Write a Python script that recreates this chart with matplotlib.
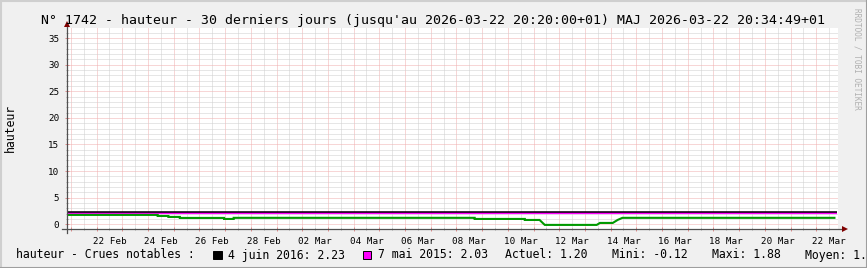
import numpy as np
import pandas as pd
import matplotlib
matplotlib.use("Agg")
import matplotlib.pyplot as plt
import matplotlib.dates as mdates
from matplotlib.ticker import MultipleLocator, NullFormatter
from matplotlib.lines import Line2D
from matplotlib.patches import Rectangle

# hauteur (m) - relevé approximatif sur le graphe
t_hauteur = ['2026-02-20 20:20', '2026-02-24 09:00', '2026-02-24 09:00', '2026-02-24 19:00',
             '2026-02-24 19:00', '2026-02-25 05:40', '2026-02-25 05:40', '2026-02-26 23:00',
             '2026-02-26 23:00', '2026-02-27 08:00', '2026-02-27 08:00', '2026-03-08 17:00',
             '2026-03-08 17:00', '2026-03-10 15:50', '2026-03-10 15:50', '2026-03-11 05:40',
             '2026-03-11 10:30', '2026-03-13 11:00', '2026-03-13 14:00', '2026-03-14 02:00',
             '2026-03-14 06:30', '2026-03-14 11:00', '2026-03-22 17:00']
v_hauteur = [1.75, 1.75, 1.55, 1.55,
             1.37, 1.37, 1.18, 1.18,
             0.99, 0.99, 1.20, 1.20,
             0.99, 0.99, 0.80, 0.80,
             -0.13, -0.13, 0.24, 0.24,
             0.80, 1.20, 1.20]

# crues notables
crues_labels = ['4 juin 2016: 2.23', '7 mai 2015: 2.03']
crues_values = [2.23, 2.03]
crues_colors = ['#000000', '#ff00ff']
crues_t = ['2026-02-20 20:20', '2026-03-22 19:50']

stats = ['Actuel: 1.20', 'Mini: -0.12', 'Maxi: 1.88', 'Moyen: 1.19']

tick_labels = ['22 Feb', '24 Feb', '26 Feb', '28 Feb', '02 Mar', '04 Mar', '06 Mar', '08 Mar',
               '10 Mar', '12 Mar', '14 Mar', '16 Mar', '18 Mar', '20 Mar', '22 Mar']
tick_pos = ['2026-02-22 12:00', '2026-02-24 12:00', '2026-02-26 12:00', '2026-02-28 12:00',
            '2026-03-02 12:00', '2026-03-04 12:00', '2026-03-06 12:00', '2026-03-08 12:00',
            '2026-03-10 12:00', '2026-03-12 12:00', '2026-03-14 12:00', '2026-03-16 12:00',
            '2026-03-18 12:00', '2026-03-20 12:00', '2026-03-22 12:00']

t_start = pd.Timestamp('2026-02-20 20:20')
t_end = pd.Timestamp('2026-03-22 20:20')

MONO = 'DejaVu Sans Mono'
plt.rcParams['font.family'] = MONO

W, H = 867, 268
fig = plt.figure(figsize=(W / 100, H / 100), dpi=100, facecolor='#f0f0f0')


def fx(px):
    return px / W


def fy(py):
    return 1 - py / H


ax = fig.add_axes([fx(67), fy(229), fx(838) - fx(67), fy(28) - fy(229)])
ax.set_facecolor('white')

ax.set_xlim(t_start, t_end)
ax.set_ylim(-0.9, 36.9)

# grille
ax.xaxis.set_major_locator(mdates.DayLocator())
ax.xaxis.set_minor_locator(mdates.HourLocator(byhour=[12]))
ax.xaxis.set_major_formatter(NullFormatter())
ax.yaxis.set_major_locator(MultipleLocator(5))
ax.yaxis.set_minor_locator(MultipleLocator(1))
ax.grid(which='minor', color='#cfcfcf', linestyle=(0, (1, 1)), linewidth=0.72)
ax.grid(which='major', color='#f0afaf', linestyle=(0, (1, 1)), linewidth=0.72)
ax.set_axisbelow(True)

ax.tick_params(axis='x', which='major', length=3, width=0.72, color='#e09090', direction='inout')
ax.tick_params(axis='x', which='minor', length=2, width=0.72, color='#aaaaaa', direction='inout')
ax.tick_params(axis='y', which='major', length=3, width=0.72, color='#e09090', direction='inout',
               labelsize=6.7, pad=4)
ax.tick_params(axis='y', which='minor', length=2, width=0.72, color='#aaaaaa', direction='inout')

for s in ax.spines.values():
    s.set_visible(False)

# étiquettes de dates centrées à midi
for lab, p in zip(tick_labels, tick_pos):
    ax.text(pd.Timestamp(p), -0.04, lab, transform=ax.get_xaxis_transform(),
            ha='center', va='top', fontsize=6.7, family=MONO)

# courbes : magenta d'abord, noir fin par-dessus pour garder les deux visibles
for v, c, lw in sorted(zip(crues_values, crues_colors, [1.1, 1.6])):
    ax.plot(pd.to_datetime(crues_t), [v, v], color=c, linewidth=lw, solid_capstyle='butt')
ax.plot(pd.to_datetime(t_hauteur), v_hauteur, color='#009900', linewidth=1.5,
        solid_joinstyle='miter')

# axes avec flèches
ax.add_line(Line2D([-0.006, 1.006], [0, 0], transform=ax.transAxes, color='#505050',
                   linewidth=0.9, clip_on=False))
ax.add_line(Line2D([0, 0], [-0.02, 1.02], transform=ax.transAxes, color='#505050',
                   linewidth=0.9, clip_on=False))
ax.plot([1.009], [0], marker='>', markersize=4.5, color='#7f0000', transform=ax.transAxes,
        clip_on=False, markeredgewidth=0)
ax.plot([0], [1.02], marker='^', markersize=4.5, color='#7f0000', transform=ax.transAxes,
        clip_on=False, markeredgewidth=0)

# titre
fig.text(fx(433), fy(24), "N° 1742 - hauteur - 30 derniers jours (jusqu'au 2026-03-22 20:20:00+01) "
         "MAJ 2026-03-22 20:34:49+01", ha='center', va='baseline', fontsize=9.55, family=MONO)

fig.text(fx(10), fy(128), 'hauteur', rotation=90, ha='center', va='center', fontsize=8.3)

fig.text(fx(857), fy(59), 'RRDTOOL / TOBI OETIKER', rotation=270, ha='center', va='center',
         fontsize=5.6, color='#b0b0b0')

# légende (le dernier texte est coupé au bord, comme sur l'original)
base = fy(258.5)
fig.text(fx(16.5), base, 'hauteur - Crues notables :', fontsize=8.3, va='baseline')
sq_x = [213.3, 363]
txt_x = [228.3, 377.5]
for lab, c, sx, tx in zip(crues_labels, crues_colors, sq_x, txt_x):
    fig.patches.append(Rectangle((fx(sx), fy(259)), fx(8.3), fy(250.7) - fy(259),
                                 transform=fig.transFigure, facecolor=c, edgecolor='black',
                                 linewidth=0.7))
    fig.text(fx(tx), base, lab, fontsize=8.3, va='baseline')
for lab, px in zip(stats, [505, 611.7, 711.7, 805]):
    fig.text(fx(px), base, lab, fontsize=8.3, va='baseline')

# bordure ombrée
fig.add_artist(Line2D([0, 1], [fy(0.5), fy(0.5)], transform=fig.transFigure, color='#cfcfcf', linewidth=1.5))
fig.add_artist(Line2D([fx(0.5), fx(0.5)], [0, 1], transform=fig.transFigure, color='#cfcfcf', linewidth=1.5))
fig.add_artist(Line2D([0, 1], [fy(H - 0.5), fy(H - 0.5)], transform=fig.transFigure, color='#9e9e9e', linewidth=1.5))
fig.add_artist(Line2D([fx(W - 0.5), fx(W - 0.5)], [0, 1], transform=fig.transFigure, color='#9e9e9e', linewidth=1.5))

fig.savefig('out.png', dpi=100, facecolor=fig.get_facecolor())
